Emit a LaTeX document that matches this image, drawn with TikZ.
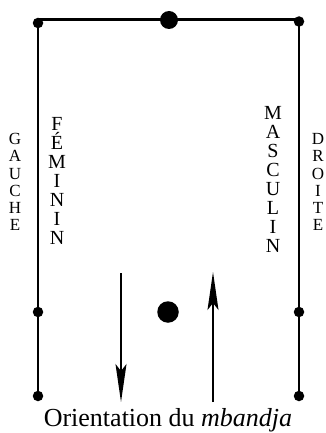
\documentclass[tikz,border=0pt]{standalone}
\usepackage{fontspec}
\setmainfont{Liberation Serif}
\usetikzlibrary{arrows.meta}
\begin{document}
\begin{tikzpicture}[x=1pt,y=-1pt,
  frame/.style={line width=2.9pt},
  dotsmall/.style={circle,fill=black,inner sep=0pt,minimum size=10.5pt},
  dotbig/.style={circle,fill=black,inner sep=0pt,minimum size=18pt},
  dothuge/.style={circle,fill=black,inner sep=0pt,minimum size=21.5pt},
  flow/.style={line width=1.6pt,-{Stealth[length=38pt,width=11pt,inset=7pt]}},
  sidelbl/.style={anchor=base,inner sep=0pt,font=\fontsize{17}{17}\selectfont},
  genlbl/.style={anchor=base,inner sep=0pt,font=\fontsize{20}{20}\selectfont}]
\useasboundingbox (0,0) rectangle (325,433);
% frame corners
\coordinate (tl) at (38,19.5);
\coordinate (tr) at (299,19.5);
\coordinate (bl) at (38,396);
\coordinate (br) at (299,396);
\draw[frame] (bl) -- (tl) -- (tr) -- (br);
% dots
\node[dotsmall] (dtl) at (38,23) {};
\node[dotsmall] (dtr) at (299,21.5) {};
\node[dotsmall] (dml) at (38,312) {};
\node[dotsmall] (dmr) at (299,312) {};
\node[dotsmall] (dbl) at (38,396) {};
\node[dotsmall] (dbr) at (299,396) {};
\node[dotbig] (dtop) at (169,20) {};
\node[dothuge] (dcen) at (168,312) {};
% arrows
\coordinate (downS) at (121,273);
\coordinate (downE) at (121,402);
\coordinate (upS) at (213,402);
\coordinate (upE) at (213,272);
\draw[flow] (downS) -- (downE);
\draw[flow] (upS) -- (upE);
% side labels
\foreach \c [count=\i from 0] in {G,A,U,C,H,E}
  \node[sidelbl] (gau\i) at (15,{139+17.2*\i+5.6}) {\c};
\foreach \c [count=\i from 0] in {D,R,O,I,T,E}
  \node[sidelbl] (dro\i) at (318,{139+17.2*\i+5.6}) {\c};
\foreach \c [count=\i from 0] in {F,É,M,I,N,I,N}
  \node[genlbl] (fem\i) at (57,{124+19*\i+6.5}) {\c};
\foreach \c [count=\i from 0] in {M,A,S,C,U,L,I,N}
  \node[genlbl] (mas\i) at (273,{113+19*\i+6.5}) {\c};
% caption
\node[anchor=base,inner sep=0pt,font=\fontsize{26}{26}\selectfont] (cap) at (168,426.5) {Orientation du \textit{mbandja}};
\end{tikzpicture}
\end{document}
